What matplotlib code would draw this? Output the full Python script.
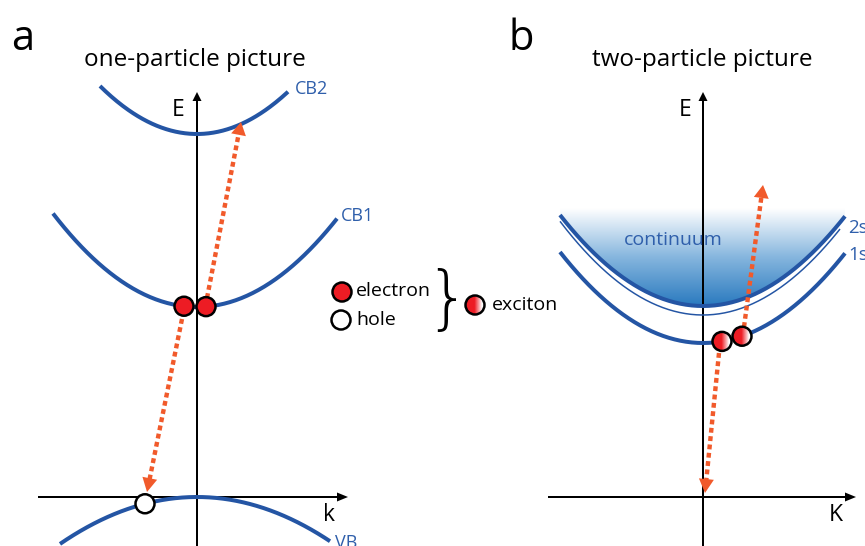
import numpy as np
import matplotlib.pyplot as plt
from matplotlib.patches import Circle, Polygon
from matplotlib.colors import LinearSegmentedColormap

plt.rcParams['font.family'] = ['Open Sans', 'DejaVu Sans']

W, H = 865, 546
BLUE = '#2455a4'
TXT_BLUE = '#2f5fab'
ORANGE = '#f15a2b'
RED = '#ed1c24'

# one-particle bands: energy at k=0, curvature, k range
bands_a = ['CB2', 'CB1', 'VB']
bands_a_E0 = [363, 190, 0]
bands_a_curv = [0.0051, 0.00451, -0.0025]
bands_a_k = [(-97, 91), (-144, 140), (-137, 133)]

# exciton dispersions
bands_b = ['continuum', '2s', '1s']
bands_b_E0 = [191, 182, 154]
bands_b_curv = [0.00445, 0.00458, 0.00445]
bands_b_k = [(-143, 142), (-143, 137), (-143, 142)]
bands_b_lw = [4, 1.5, 4]

electron_k = [-13, 9]
hole_k = [-52]
exciton_k = [19, 39]

ex_cmap = LinearSegmentedColormap.from_list(
    'ex', [(0, RED), (0.45, RED), (0.85, 'white'), (1, 'white')])
cont_cmap = LinearSegmentedColormap.from_list(
    'cont', [(0, '#2a7abf'), (0.5, '#86b6de'), (1, 'white')])


def band(E0, c, k):
    return E0 + c * np.asarray(k, float) ** 2


def arrow(ax, start, end, color, lw, dotted=False, hl=14, hw=14, z=4):
    s = np.array(start, float)
    e = np.array(end, float)
    d = (e - s) / np.hypot(*(e - s))
    n = np.array([-d[1], d[0]])
    base = e - d * hl
    ax.plot([s[0], base[0] + d[0]], [s[1], base[1] + d[1]], color=color,
            lw=lw * 0.72, ls=(0, (1.1, 0.8)) if dotted else '-',
            solid_capstyle='butt', dash_capstyle='butt', zorder=z)
    ax.add_patch(Polygon([e, base + n * hw / 2, base - n * hw / 2],
                         closed=True, fc=color, ec='none', zorder=z))


def dot(ax, k, E, fc, r=9.5, z=6):
    ax.add_patch(Circle((k, E), r, fc=fc, ec='k', lw=1.8, zorder=z))


def exciton(ax, k, E, r=9.5, z=6):
    im = ax.imshow(np.linspace(0, 1, 64)[None, :], cmap=ex_cmap,
                   extent=(k - r, k + r, E - r, E + r), aspect='auto',
                   interpolation='bilinear', zorder=z)
    im.set_clip_path(Circle((k, E), r, transform=ax.transData))
    ax.add_patch(Circle((k, E), r, fc='none', ec='k', lw=1.8, zorder=z + 1))


fig = plt.figure(figsize=(W / 100, H / 100), dpi=100)


def panel(x0, y0, name):
    ax = fig.add_axes([0, 0, 1, 1], label=name)
    ax.axis('off')
    ax.patch.set_alpha(0)
    return ax, (x0, y0)


axa, org_a = panel(197, 497, 'a')
axb, org_b = panel(703, 497, 'b')

# ---- panel a: one-particle picture
for name, E0, c, (k0, k1) in zip(bands_a, bands_a_E0, bands_a_curv, bands_a_k):
    k = np.linspace(k0, k1, 200)
    axa.plot(k, band(E0, c, k), color=BLUE, lw=4 * 0.72,
             solid_capstyle='butt', zorder=3)

axa.text(98, 408, 'CB2', color=TXT_BLUE, fontsize=13, ha='left', va='center')
axa.text(144, 281, 'CB1', color=TXT_BLUE, fontsize=13, ha='left', va='center')
axa.text(138, -37, 'VB', color=TXT_BLUE, fontsize=13, ha='left', va='top')

arrow(axa, (0, -50), (0, 405), 'k', 2, hl=9, hw=9, z=2)
arrow(axa, (-159, 0), (151, 0), 'k', 2, hl=11, hw=9, z=2)
axa.text(-19, 387, 'E', fontsize=16.5, ha='center', va='center')
axa.text(132, -18, 'k', fontsize=16.5, ha='center', va='center')

arrow(axa, (10, 199), (44, 375), ORANGE, 4.4, dotted=True, hl=13, hw=15, z=4)
arrow(axa, (-15, 178), (-50, 5), ORANGE, 4.4, dotted=True, hl=14, hw=15, z=4)

for k in electron_k:
    dot(axa, k, band(bands_a_E0[1], bands_a_curv[1], k), RED)
for k in hole_k:
    dot(axa, k, band(bands_a_E0[2], bands_a_curv[2], k), 'white')

# legend
dot(axa, 145, 205, RED)
dot(axa, 144, 177, 'white')
axa.text(159, 206, 'electron', fontsize=14, ha='left', va='center')
axa.text(159, 177, 'hole', fontsize=14, ha='left', va='center')
axa.text(250, 195, '}', fontsize=50, ha='center', va='center',
         fontweight='light', family='DejaVu Sans')
exciton(axa, 278, 192)
axa.text(295, 192, 'exciton', fontsize=14, ha='left', va='center')

# ---- panel b: two-particle picture
kc = np.linspace(*bands_b_k[0], 300)
Ec = band(bands_b_E0[0], bands_b_curv[0], kc)
top = 289
clip = Polygon(list(zip(kc, Ec)) + [(kc[-1], top), (kc[0], top)],
               transform=axb.transData)
im = axb.imshow(np.linspace(0, 1, 200)[:, None], cmap=cont_cmap, origin='lower',
                extent=(kc[0], kc[-1], bands_b_E0[0], top), aspect='auto',
                interpolation='bilinear', zorder=1)
im.set_clip_path(clip)

for name, E0, c, (k0, k1), lw in zip(bands_b, bands_b_E0, bands_b_curv,
                                     bands_b_k, bands_b_lw):
    k = np.linspace(k0, k1, 200)
    axb.plot(k, band(E0, c, k), color=BLUE, lw=lw * 0.72,
             solid_capstyle='butt', zorder=3)

axb.text(-79, 257, 'continuum', color=TXT_BLUE, fontsize=14, ha='left', va='center')
axb.text(145, 269, '2s', color=TXT_BLUE, fontsize=13.5, ha='left', va='center')
axb.text(145, 242, '1s', color=TXT_BLUE, fontsize=13.5, ha='left', va='center')

arrow(axb, (0, -50), (0, 405), 'k', 2, hl=9, hw=9, z=2)
arrow(axb, (-155, 0), (153, 0), 'k', 2, hl=11, hw=9, z=2)
axb.text(-18, 387, 'E', fontsize=16.5, ha='center', va='center')
axb.text(133, -18, 'K', fontsize=16.5, ha='center', va='center')

arrow(axb, (41, 170), (60, 312), ORANGE, 4.4, dotted=True, hl=13, hw=15, z=4)
arrow(axb, (16, 144), (2, 4), ORANGE, 4.4, dotted=True, hl=14, hw=15, z=4)

for k in exciton_k:
    exciton(axb, k, band(bands_b_E0[2], bands_b_curv[2], k))

for ax, (x0, y0) in [(axa, org_a), (axb, org_b)]:
    ax.set_xlim(-x0, W - x0)
    ax.set_ylim(y0 - H, y0)

fig.text(11 / W, 1 - 50 / H, 'a', fontsize=30, ha='left', va='baseline')
fig.text(509 / W, 1 - 50 / H, 'b', fontsize=30, ha='left', va='baseline')
fig.text(195 / W, 1 - 60 / H, 'one-particle picture', fontsize=17.5,
         ha='center', va='center')
fig.text(702 / W, 1 - 60 / H, 'two-particle picture', fontsize=17.5,
         ha='center', va='center')

fig.savefig('out.png', dpi=100)
